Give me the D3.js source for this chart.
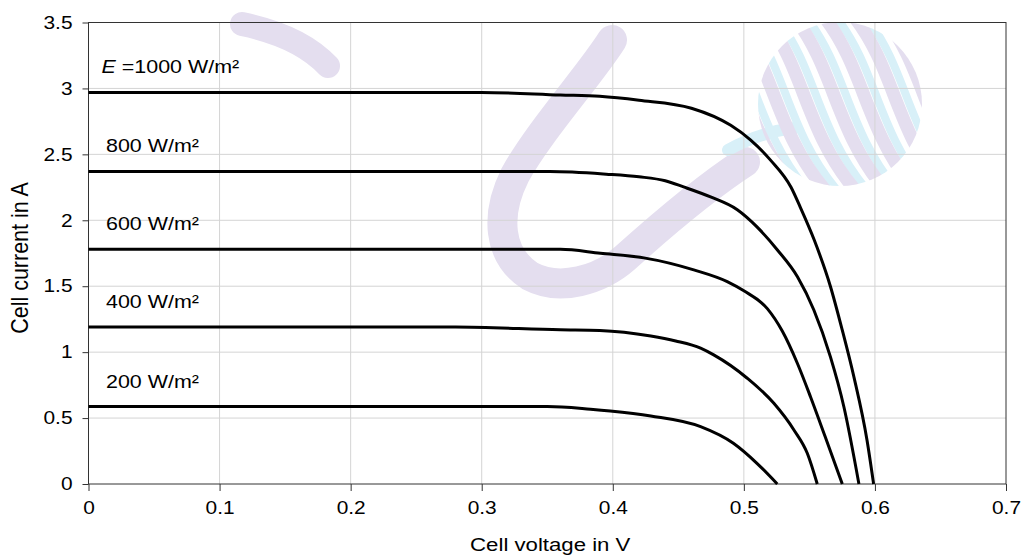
<!DOCTYPE html>
<html lang="en">
<head>
<meta charset="UTF-8">
<script src="https://cdn.jsdelivr.net/npm/d3@7"></script>
<title>I-V curves</title>
<style>
  body { margin: 0; background: #fff; }
  text { font-family: "Liberation Sans", Arial, sans-serif; fill: #000; }
  .grid line { stroke: #d4d4d4; stroke-width: 1; }
  .axis path, .axis line { stroke: #333; }
  .wm { fill: none; stroke-linecap: round; }
</style>
</head>
<body>
<div id="chart"></div>
<script>
// irradiance levels (W/m²)
var levels = [1000, 800, 600, 400, 200];
var labels = ["=1000 W/m²", "800 W/m²", "600 W/m²", "400 W/m²", "200 W/m²"];

// voltage (V) and current (A) per curve
var v1000 = [0, 0.30, 0.36, 0.39, 0.42, 0.46, 0.49, 0.505, 0.52, 0.536, 0.543, 0.5537, 0.566, 0.575, 0.584, 0.594, 0.599];
var i1000 = [2.97, 2.97, 2.95, 2.94, 2.91, 2.85, 2.72, 2.61, 2.46, 2.25, 2.10, 1.85, 1.50, 1.17, 0.81, 0.33, 0];
var v800 = [0, 0.352, 0.395, 0.42, 0.44, 0.454, 0.4746, 0.495, 0.510, 0.5256, 0.541, 0.5534, 0.566, 0.5763, 0.5878];
var i800 = [2.37, 2.37, 2.35, 2.33, 2.30, 2.253, 2.177, 2.08, 1.95, 1.775, 1.57, 1.32, 0.966, 0.586, 0];
var v600 = [0, 0.36, 0.3906, 0.4237, 0.4618, 0.4873, 0.50, 0.5179, 0.5293, 0.5408, 0.5509, 0.562, 0.5751];
var i600 = [1.78, 1.78, 1.75, 1.715, 1.624, 1.535, 1.465, 1.33, 1.16, 0.916, 0.66, 0.36, 0];
var v400 = [0, 0.28, 0.36, 0.39, 0.429, 0.448, 0.467, 0.477, 0.5026, 0.5229, 0.5382, 0.5484, 0.556];
var i400 = [1.19, 1.19, 1.17, 1.165, 1.123, 1.085, 1.03, 0.979, 0.802, 0.612, 0.41, 0.233, 0];
var v200 = [0, 0.35, 0.383, 0.398, 0.429, 0.467, 0.492, 0.51, 0.5255];
var i200 = [0.587, 0.587, 0.567, 0.554, 0.516, 0.435, 0.309, 0.157, 0];

var xTicks = [0, 0.1, 0.2, 0.3, 0.4, 0.5, 0.6, 0.7];
var yTicks = [0, 0.5, 1, 1.5, 2, 2.5, 3, 3.5];

var curves = [
  {v: v1000, i: i1000},
  {v: v800, i: i800},
  {v: v600, i: i600},
  {v: v400, i: i400},
  {v: v200, i: i200}
];

var width = 1024, height = 555;
var margin = {left: 88.5, right: 18, top: 22.5, bottom: 71};
var stretch = 1.16;   // text in the picture is a bit wider than normal

var svg = d3.select("#chart").append("svg")
    .attr("width", width)
    .attr("height", height);

var x = d3.scaleLinear().domain([0, 0.7]).range([margin.left, width - margin.right]);
var y = d3.scaleLinear().domain([0, 3.5]).range([height - margin.bottom, margin.top]);

// faint watermark behind the plot
var purple = "#e4deef", blue = "#d8f0f8";
var wm = svg.append("g");
wm.append("path").attr("class", "wm")
    .attr("d", "M612,40 C590,75 540,130 515,175 C495,215 498,255 530,276 C560,292 600,280 625,258 C665,222 705,188 745,162")
    .attr("stroke", purple).attr("stroke-width", 30);
wm.append("path").attr("class", "wm")
    .attr("d", "M242,24 Q300,36 328,66")
    .attr("stroke", purple).attr("stroke-width", 24);
wm.append("path").attr("class", "wm")
    .attr("d", "M728,150 Q760,132 795,128")
    .attr("stroke", blue).attr("stroke-width", 12);
var sphere = wm.append("g");
svg.append("clipPath").attr("id", "ball")
  .append("circle").attr("cx", 840).attr("cy", 104).attr("r", 82);
sphere.attr("clip-path", "url(#ball)");
d3.range(-4, 5).forEach(function(k){
  var x0 = 840 + k * 30;
  sphere.append("path").attr("class", "wm")
      .attr("d", "M" + (x0 - 45) + ",18 C" + (x0 - 5) + ",70 " + (x0 - 5) + ",130 " + (x0 + 45) + ",190")
      .attr("stroke", blue).attr("stroke-width", 8)
      .attr("transform", "translate(12,0)");
  sphere.append("path").attr("class", "wm")
      .attr("d", "M" + (x0 - 45) + ",18 C" + (x0 - 5) + ",70 " + (x0 - 5) + ",130 " + (x0 + 45) + ",190")
      .attr("stroke", purple).attr("stroke-width", 13);
});

// grid
var grid = svg.append("g").attr("class", "grid");
grid.selectAll(".gx").data(xTicks.slice(1, -1)).enter().append("line")
    .attr("x1", d => x(d)).attr("x2", d => x(d))
    .attr("y1", y(0)).attr("y2", y(3.5));
grid.selectAll(".gy").data(yTicks.slice(1, -1)).enter().append("line")
    .attr("x1", x(0)).attr("x2", x(0.7))
    .attr("y1", d => y(d)).attr("y2", d => y(d));

// frame
svg.append("rect")
    .attr("x", x(0)).attr("y", y(3.5))
    .attr("width", x(0.7) - x(0)).attr("height", y(0) - y(3.5))
    .attr("fill", "none").attr("stroke", "#333").attr("stroke-width", 1);

// axes
var xAxis = d3.axisBottom(x).tickValues(xTicks).tickFormat(d3.format("")).tickSize(7).tickPadding(10);
var yAxis = d3.axisLeft(y).tickValues(yTicks).tickFormat(d3.format("")).tickSize(6).tickPadding(10);

var gx = svg.append("g").attr("class", "axis")
    .attr("transform", "translate(0," + y(0) + ")")
    .call(xAxis);
var gy = svg.append("g").attr("class", "axis")
    .attr("transform", "translate(" + x(0) + ",0)")
    .call(yAxis);
svg.selectAll(".axis .domain").remove();
svg.selectAll(".axis text")
    .attr("font-size", "18px")
    .attr("font-family", null);
gx.selectAll(".tick text").attr("transform", "scale(" + stretch + ",1)");
gy.selectAll(".tick text")
    .attr("transform", "translate(-16,0) scale(" + stretch + ",1) translate(16,0)");

// curves
var line = d3.line()
    .x(d => x(d[0]))
    .y(d => y(d[1]))
    .curve(d3.curveMonotoneX);

svg.selectAll(".iv").data(curves).enter().append("path")
    .attr("class", "iv")
    .attr("d", c => line(c.v.map((v, k) => [v, c.i[k]])))
    .attr("fill", "none")
    .attr("stroke", "#000")
    .attr("stroke-width", 3)
    .attr("stroke-linejoin", "round");

// series labels
var lab = svg.selectAll(".lab").data(levels).enter().append("text")
    .attr("class", "lab")
    .attr("font-size", "18.5px")
    .attr("transform", (d, k) => "translate(" + (k === 0 ? 101.5 : 106) + "," + (y(curves[k].i[0]) - 19) + ") scale(" + stretch + ",1)");
lab.each(function(d, k){
  var t = d3.select(this);
  if (k === 0) {
    t.append("tspan").attr("font-style", "italic").text("E");
    t.append("tspan").text(" " + labels[k]);
  } else {
    t.text(labels[k]);
  }
});

// axis titles
svg.append("text")
    .attr("text-anchor", "middle")
    .attr("font-size", "18.5px")
    .attr("transform", "translate(" + ((x(0) + x(0.7)) / 2 + 3) + "," + (height - 4) + ") scale(1.2,1)")
    .text("Cell voltage in V");
svg.append("text")
    .attr("text-anchor", "middle")
    .attr("font-size", "21.5px")
    .attr("transform", "translate(28,258) rotate(-90) scale(1,1.08)")
    .text("Cell current in A");
</script>
</body>
</html>
